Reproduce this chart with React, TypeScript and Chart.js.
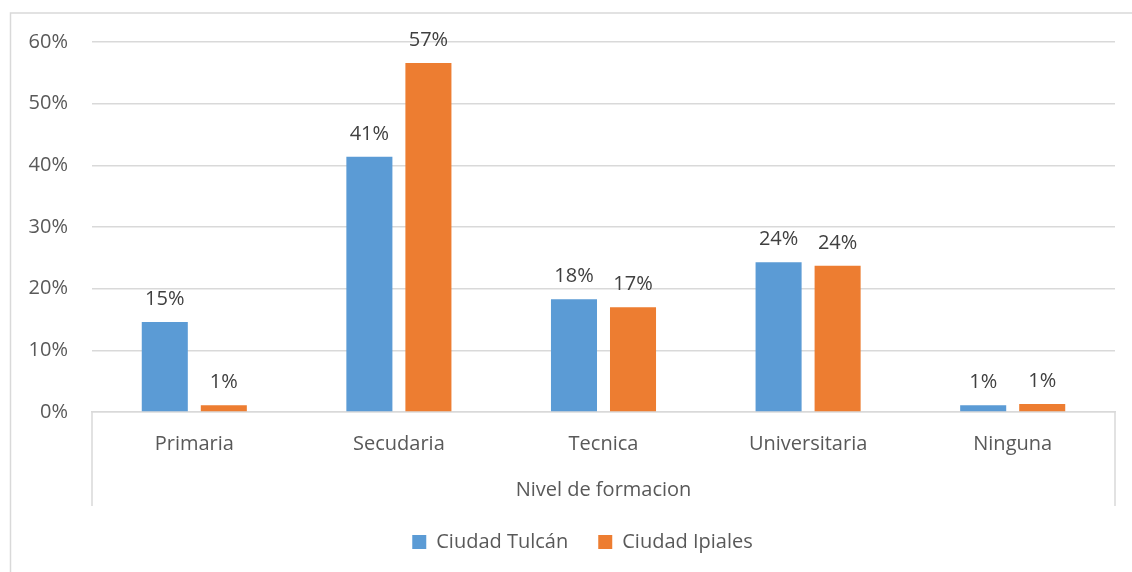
import React, { useEffect, useRef } from "react";
import { Chart, registerables } from "chart.js";

Chart.register(...registerables);

const categories = ["Primaria", "Secudaria", "Tecnica", "Universitaria", "Ninguna"];
const tulcanValues = [14.6, 41.4, 18.3, 24.3, 1.1];
const ipialesValues = [1.1, 56.6, 17.0, 23.7, 1.3];
const seriesNames = ["Ciudad Tulcán", "Ciudad Ipiales"];
const axisTitle = "Nivel de formacion";

const TEXT = "#595959";
const GRID = "#d9d9d9";
const FONT = "'Open Sans', sans-serif";

export default function App() {
  const ref = useRef<HTMLCanvasElement>(null);

  useEffect(() => {
    if (!ref.current) return;
    const frame = {
      id: "frame",
      beforeDraw(chart: any) {
        const ctx = chart.ctx;
        ctx.save();
        ctx.fillStyle = "#ffffff";
        ctx.fillRect(0, 0, chart.width, chart.height);
        ctx.strokeStyle = GRID;
        ctx.lineWidth = 1.5;
        ctx.strokeRect(10.5, 13, chart.width + 20, chart.height + 20);
        ctx.restore();
      },
      afterLayout(chart: any) {
        const lg = chart.legend;
        if (lg) {
          lg.left += 20;
          lg.right += 20;
        }
      },
      afterDraw(chart: any) {
        const ctx = chart.ctx;
        const a = chart.chartArea;
        ctx.save();
        ctx.strokeStyle = GRID;
        ctx.lineWidth = 1.5;
        ctx.beginPath();
        ctx.moveTo(a.left, a.bottom);
        ctx.lineTo(a.left, 506);
        ctx.moveTo(a.right, a.bottom);
        ctx.lineTo(a.right, 506);
        ctx.stroke();
        ctx.restore();
      },
      afterDatasetsDraw(chart: any) {
        const ctx = chart.ctx;
        ctx.save();
        ctx.font = `20px ${FONT}`;
        ctx.fillStyle = "#404040";
        ctx.textAlign = "center";
        ctx.textBaseline = "alphabetic";
        chart.data.datasets.forEach((ds: any, di: number) => {
          const meta = chart.getDatasetMeta(di);
          meta.data.forEach((bar: any, i: number) => {
            const v = ds.data[i];
            ctx.fillText(Math.round(v) + "%", bar.x, bar.y - 17);
          });
        });
        ctx.restore();
      },
    };

    const chart = new Chart(ref.current, {
      type: "bar",
      data: {
        labels: categories,
        datasets: [
          {
            label: seriesNames[0],
            data: tulcanValues,
            backgroundColor: "#5B9BD5",
            categoryPercentage: 0.577,
            barPercentage: 0.78,
          },
          {
            label: seriesNames[1],
            data: ipialesValues,
            backgroundColor: "#ED7D31",
            categoryPercentage: 0.577,
            barPercentage: 0.78,
          },
        ],
      },
      options: {
        responsive: false,
        animation: false,
        devicePixelRatio: 1,
        layout: { padding: { left: 10, right: 17, top: 42, bottom: 10 } },
        font: { family: FONT, size: 20 },
        plugins: {
          tooltip: { enabled: false },
          legend: {
            position: "bottom",
            labels: {
              boxWidth: 14,
              boxHeight: 14,
              padding: 30,
              color: TEXT,
              font: { family: FONT, size: 20 },
            },
          },
        },
        scales: {
          x: {
            grid: { display: false },
            border: { display: true, color: GRID, width: 1.5 },
            ticks: { color: TEXT, font: { family: FONT, size: 20 }, padding: 12 },
            title: {
              display: true,
              text: axisTitle,
              color: TEXT,
              font: { family: FONT, size: 20 },
              padding: { top: 0, bottom: 0 },
            },
            afterFit(scale: any) {
              scale.height = 90;
            },
          },
          y: {
            min: 0,
            max: 60,
            grid: { color: GRID, lineWidth: 1.5, drawTicks: false },
            border: { display: false },
            ticks: {
              stepSize: 10,
              color: TEXT,
              font: { family: FONT, size: 20 },
              padding: 24,
              callback: (v: any) => v + "%",
            },
            afterFit(scale: any) {
              scale.width = 82;
            },
          },
        },
      },
      plugins: [frame],
    });
    return () => chart.destroy();
  }, []);

  return (
    <div style={{ position: "absolute", left: 0, top: 0, width: 1132, height: 572 }}>
      <canvas ref={ref} width={1132} height={572} />
    </div>
  );
}
